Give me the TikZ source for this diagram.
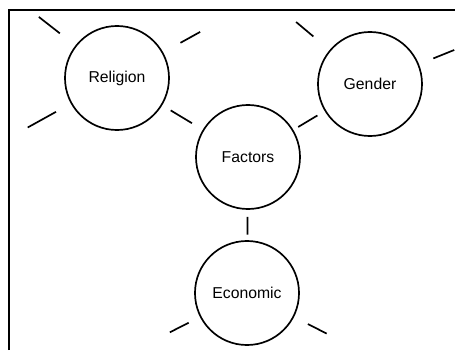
\documentclass[tikz,border=0pt]{standalone}
\usepackage{fontspec}
\setmainfont{Liberation Sans}
\begin{document}
\begin{tikzpicture}[x=0.025cm,y=-0.025cm,
    factor/.style={circle,draw,line width=1.2pt,minimum size=2.6cm,inner sep=0pt,
      font=\fontsize{11.2}{13}\selectfont},
    spoke/.style={line width=1.2pt}]
  \useasboundingbox (0,0) rectangle (455,350);
  \draw[line width=1.4pt] (9,350) -- (9,10) -- (455,10);
  \node[factor] (fac) at (248,157) {Factors};
  \node[factor] (rel) at (117,78) {Religion};
  \node[factor] (gen) at (370,84) {Gender};
  \node[factor] (eco) at (247,293) {Economic};
  \draw[spoke,shorten <=7pt,shorten >=9pt] (rel) -- (fac);
  \draw[spoke,shorten <=6pt,shorten >=4pt] (gen) -- (fac);
  \draw[spoke,shorten <=5pt,shorten >=4pt] (fac) -- (eco);
  \draw[spoke,shorten <=14pt] (rel.142) -- ++(142:33pt);
  \draw[spoke,shorten <=14pt] (rel.29) -- ++(29:30pt);
  \draw[spoke,shorten <=12pt] (rel.209) -- ++(209:35pt);
  \draw[spoke,shorten <=15pt] (gen.140) -- ++(140:31pt);
  \draw[spoke,shorten <=11pt] (gen.22) -- ++(22:27pt);
  \draw[spoke,shorten <=9pt] (eco.207) -- ++(207:24pt);
  \draw[spoke,shorten <=11pt] (eco.-27) -- ++(-27:26pt);
\end{tikzpicture}
\end{document}
